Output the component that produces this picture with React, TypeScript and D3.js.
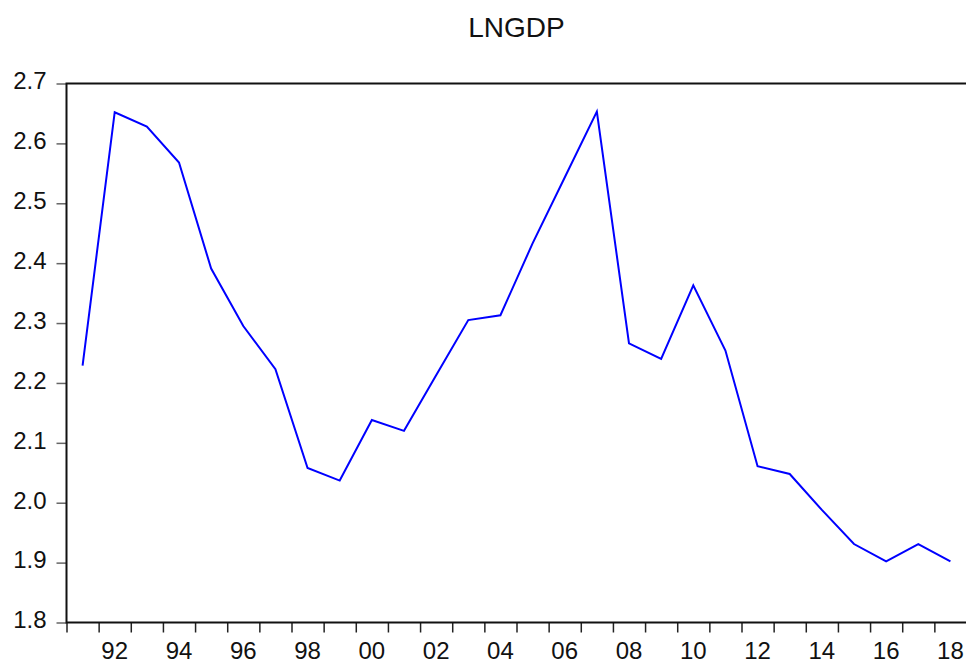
import React, { useEffect, useRef } from "react";
import * as d3 from "d3";

// LNGDP, annual 1991-2018
const years: number[] = d3.range(1991, 2019);
const lngdp: number[] = [
    2.229, 2.652, 2.628, 2.568, 2.391, 2.295, 2.223, 2.058, 2.037, 2.138,
    2.12, 2.213, 2.305, 2.313, 2.433, 2.543, 2.653, 2.266, 2.24, 2.363,
    2.254, 2.061, 2.048, 1.988, 1.931, 1.902, 1.931, 1.902,
];
const yTicks: number[] = [1.8, 1.9, 2.0, 2.1, 2.2, 2.3, 2.4, 2.5, 2.6, 2.7];
const labelYears: number[] = [1992, 1994, 1996, 1998, 2000, 2002, 2004, 2006, 2008, 2010, 2012, 2014, 2016, 2018];

const width = 966;
const height = 661;
const margins = { top: 83.5, right: -0.5, bottom: 38.5, left: 66.5 };
const font = "'Liberation Sans', Arial, Helvetica, sans-serif";

const App: React.FC = () => {
    const svgRef = useRef<SVGSVGElement | null>(null);

    useEffect(() => {
        if (!svgRef.current) return;
        const svg = d3.select(svgRef.current);
        svg.selectAll("*").remove();

        const x = d3
            .scaleLinear()
            .domain([1991, 2019])
            .range([margins.left, width - margins.right]);

        const y = d3
            .scaleLinear()
            .domain([1.8, 2.7])
            .range([height - margins.bottom, margins.top]);

        svg.attr("viewBox", [0, 0, width, height])
            .attr("width", width)
            .attr("height", height)
            .style("font-family", font);

        // title
        svg.append("text")
            .attr("x", (x(1991) + x(2019)) / 2)
            .attr("y", 37)
            .attr("text-anchor", "middle")
            .attr("font-size", 28)
            .attr("fill", "#111")
            .text("LNGDP");

        // y axis
        svg.append("g")
            .attr("transform", `translate(${margins.left},0)`)
            .call(
                d3
                    .axisLeft(y)
                    .tickValues(yTicks)
                    .tickSize(10)
                    .tickPadding(10)
                    .tickFormat(d3.format(".1f"))
            )
            .call((g) => g.select(".domain").remove())
            .call((g) =>
                g.selectAll(".tick line").attr("stroke", "#666").attr("stroke-width", 1.5)
            )
            .call((g) =>
                g
                    .selectAll(".tick text")
                    .attr("font-size", 24)
                    .attr("font-family", font)
                    .attr("fill", "#111")
                    .attr("dy", "0.22em")
            );

        // x axis ticks at year boundaries
        svg.append("g")
            .attr("transform", `translate(0,${height - margins.bottom})`)
            .call(
                d3
                    .axisBottom(x)
                    .tickValues(d3.range(1991, 2020))
                    .tickSize(10)
                    .tickFormat(() => "")
            )
            .call((g) => g.select(".domain").remove())
            .call((g) =>
                g.selectAll(".tick line").attr("stroke", "#222").attr("stroke-width", 1.5)
            );

        // x labels centered in their year
        svg.append("g")
            .selectAll("text")
            .data(labelYears)
            .join("text")
            .attr("x", (d) => x(d + 0.5))
            .attr("y", 659)
            .attr("text-anchor", "middle")
            .attr("font-size", 24)
            .attr("fill", "#111")
            .text((d) => d3.format("02d")(d % 100));

        // frame: left, top, bottom
        const frame = d3.path();
        frame.moveTo(x(2019), y(2.7));
        frame.lineTo(x(1991), y(2.7));
        frame.lineTo(x(1991), y(1.8));
        frame.lineTo(x(2019), y(1.8));
        svg.append("path")
            .attr("d", frame.toString())
            .attr("fill", "none")
            .attr("stroke", "#111")
            .attr("stroke-width", 2);

        // series
        const line = d3
            .line<number>()
            .x((_, i) => x(years[i] + 0.5))
            .y((d) => y(d));

        svg.append("path")
            .datum(lngdp)
            .attr("fill", "none")
            .attr("stroke", "#0000ff")
            .attr("stroke-width", 2)
            .attr("stroke-linejoin", "miter")
            .attr("d", line);
    }, []);

    return (
        <div style={{ position: "absolute", left: 0, top: 0, background: "#fff" }}>
            <svg ref={svgRef} style={{ display: "block" }}></svg>
        </div>
    );
};

export default App;
